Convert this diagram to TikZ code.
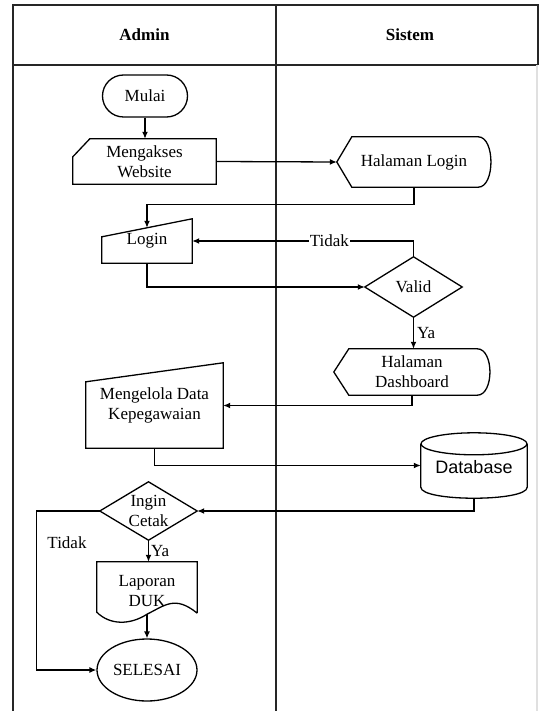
\documentclass[tikz,border=0pt]{standalone}
\usepackage{fontspec}
\setmainfont{Liberation Serif}
\newfontfamily\dbfont{Liberation Sans}
\usetikzlibrary{arrows.meta,shapes.misc,shapes.geometric}
\newcommand\flowfs{\fontsize{17}{20}\selectfont}
\tikzset{
  box/.style={rectangle, draw=none, inner sep=0pt, align=center, font=\flowfs},
  ln/.style={line width=1.3pt, line join=miter},
  arr/.style={ln, -{Latex[length=7pt,width=6pt]}},
  lane/.style={line width=1.6pt, black!85},
  lbl/.style={inner sep=1pt, font=\flowfs},
}
\begin{document}
\begin{tikzpicture}[x=1pt, y=-1pt]
  \useasboundingbox (0,0) rectangle (543,711);

  % swimlane frame
  \draw[lane] (13,711) -- (13,5) -- (538,5) -- (538,65);
  \draw[lane] (13,65) -- (538,65);
  \draw[lane] (276,5) -- (276,711);
  \draw[line width=1.2pt, black!12] (537,65) -- (537,711);
  \node[lbl] (admin) at (144.5,35) {\bfseries Admin};
  \node[lbl] (sistem) at (410,35) {\bfseries Sistem};

  % start
  \node[rounded rectangle, draw, ln, minimum width=85pt, minimum height=42pt,
        inner sep=0pt, font=\flowfs] (mulai) at (145,96) {Mulai};

  % manual operation: open website
  \node[box, minimum width=143pt, minimum height=45pt] (akses) at (144.5,161.5) {Mengakses\\Website};
  \draw[ln] ([xshift=17pt]akses.north west) -- (akses.north east) -- (akses.south east)
    -- (akses.south west) -- ([yshift=-18pt]akses.north west) -- cycle;

  % display: login page
  \node[box, minimum width=154pt, minimum height=50pt] (hl) at (414,162) {Halaman Login};
  \draw[ln] (hl.west) -- ([xshift=15pt]hl.north west) -- ([xshift=-13pt]hl.north east)
    .. controls ([xshift=4pt]hl.north east) and ([xshift=4pt]hl.south east) .. ([xshift=-13pt]hl.south east)
    -- ([xshift=15pt]hl.south west) -- cycle;

  % manual input: login
  \node[box, minimum width=90pt, minimum height=44pt] (lg) at (147,241) {Login};
  \draw[ln] ([yshift=-18pt]lg.north west) -- (lg.north east) -- (lg.south east) -- (lg.south west) -- cycle;
  \coordinate (lgtop) at ([yshift=-9pt]lg.north);

  % decision: valid
  \node[box, minimum width=97pt, minimum height=60pt] (valid) at (413.5,287) {Valid};
  \draw[ln] (valid.north) -- (valid.east) -- (valid.south) -- (valid.west) -- cycle;

  % display: dashboard
  \node[box, minimum width=156pt, minimum height=46pt] (dash) at (412,372) {Halaman\\Dashboard};
  \draw[ln] (dash.west) -- ([xshift=15pt]dash.north west) -- ([xshift=-13pt]dash.north east)
    .. controls ([xshift=4pt]dash.north east) and ([xshift=4pt]dash.south east) .. ([xshift=-13pt]dash.south east)
    -- ([xshift=15pt]dash.south west) -- cycle;

  % manual input: manage staff data
  \node[box, minimum width=137pt, minimum height=85pt] (mg) at (154.5,405.5) {Mengelola Data\\Kepegawaian};
  \draw[ln] ([yshift=-19pt]mg.north west) -- (mg.north east) -- (mg.south east) -- (mg.south west) -- cycle;

  % database cylinder
  \node[box, minimum width=106pt, minimum height=65pt, font=\dbfont\fontsize{18}{20}\selectfont,
        text depth=0pt] (db) at (474,465.5) {\raisebox{-3pt}{Database}};
  \draw[ln] ([yshift=-11pt]db.north west) -- ([yshift=11pt]db.south west)
    .. controls ([yshift=-3.7pt]db.south west) and ([yshift=-3.7pt]db.south east) .. ([yshift=11pt]db.south east)
    -- ([yshift=-11pt]db.north east);
  \draw[ln] ([yshift=-11pt]db.north) ellipse [x radius=53, y radius=11];

  % decision: print?
  \node[box, minimum width=97pt, minimum height=58pt] (ingin) at (148.5,511) {Ingin\\Cetak};
  \draw[ln] (ingin.north) -- (ingin.east) -- (ingin.south) -- (ingin.west) -- cycle;

  % document: report
  \node[box, minimum width=100pt, minimum height=58pt] (lp) at (147,591) {Laporan\\DUK};
  \draw[ln] ([yshift=7pt]lp.south east) -- (lp.north east) -- (lp.north west) -- ([yshift=8pt]lp.south west)
    .. controls ([xshift=13pt,yshift=-5pt]lp.south west) and ([xshift=-17pt,yshift=-5pt]lp.south) .. ([yshift=6pt]lp.south)
    .. controls ([xshift=-32pt,yshift=15pt]lp.south east) and ([xshift=-22pt,yshift=25pt]lp.south east) .. ([yshift=7pt]lp.south east);
  \coordinate (lpbot) at ([yshift=6pt]lp.south);

  % end
  \node[ellipse, draw, ln, minimum width=100pt, minimum height=62pt, inner sep=0pt,
        font=\flowfs] (sel) at (147,670) {SELESAI};

  % connectors
  \draw[arr] (mulai.south) -- (mulai.south |- akses.north);
  \draw[arr] (akses.east) -- (hl.west);
  \draw[arr] (hl.south) -- ++(0,17) -| (lgtop);
  \draw[arr] (valid.north) |- (lg.east) node[lbl, pos=0.69, fill=white] (tidak1) {Tidak};
  \draw[arr] (lg.south) |- (valid.west);
  \draw[arr] (valid.south) -- (valid.south |- dash.north) node[lbl, midway, right, xshift=2pt] (ya1) {Ya};
  \draw[arr] (dash.south) |- (mg.east);
  \draw[arr] (mg.south) |- (db.west);
  \draw[arr] (db.south) |- (ingin.east);
  \draw[arr] (ingin.south) -- (ingin.south |- lp.north) node[lbl, midway, right, xshift=1pt] (ya2) {Ya};
  \draw[arr] (lpbot) -- (sel.north);
  \draw[arr] (ingin.west) -- ++(-63,0) |- (sel.west);
  \node[lbl] (tidak2) at (67,543) {Tidak};
\end{tikzpicture}
\end{document}
